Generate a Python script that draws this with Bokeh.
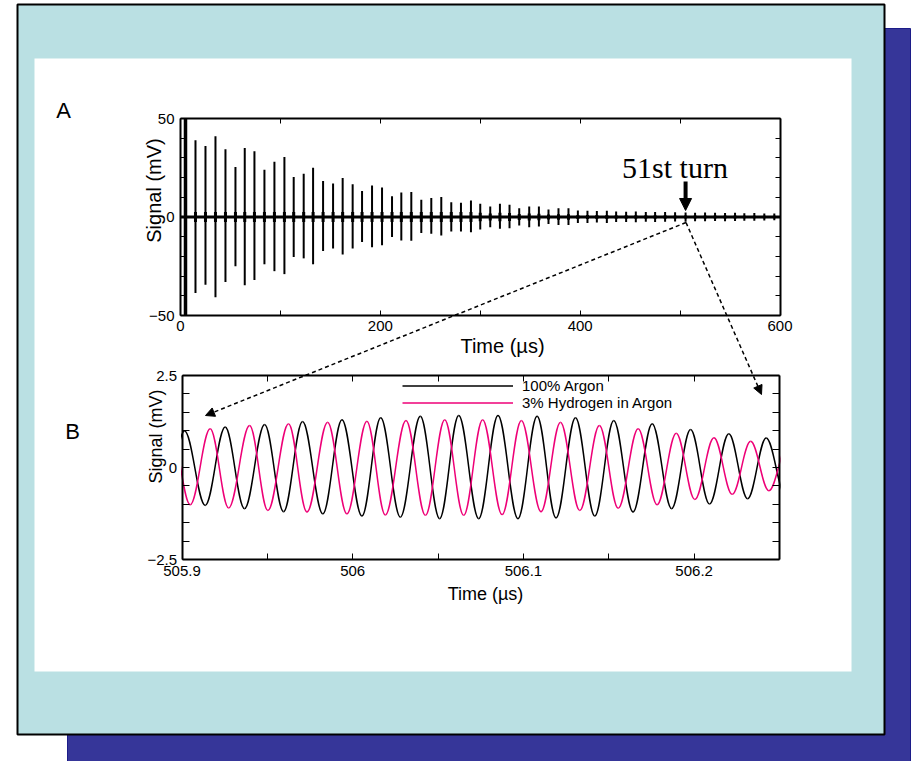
import numpy as np
from bokeh.plotting import figure
from bokeh.models import (Range1d, LinearAxis, FixedTicker, PrintfTickFormatter,
                          Arrow, NormalHead, Legend, LegendItem)
from bokeh.embed import file_html
from bokeh.resources import INLINE
from bokeh.core.properties import value

# ---------------- data ----------------
# Panel A: ring-down pulses (turn number -> time in us, peak +/- in mV)
pulse_t = [15, 25, 35, 45, 55, 64.3, 74, 84, 94, 104, 113.3, 123.3, 132.7, 142.7,
           152.7, 162.3, 172.3, 181.7, 191.7, 201.7, 211.7, 221, 231, 241, 251, 261,
           271, 280.7, 290.7, 300, 310, 319.7, 329.3, 339, 349, 358.7, 368.3, 378.3,
           388.3, 397.7, 407.3, 416.7, 426.7, 436, 446, 455.7, 465.7, 475, 485, 495,
           505.5, 515, 525, 535, 545, 555, 564.3, 574.3, 584.3, 594.3]
pulse_pos = [39, 36, 41, 34.4, 25.4, 35, 33.4, 24, 28, 30.5, 20.3, 22, 25, 18.3, 17,
             19.8, 16.6, 13.2, 16, 15, 10.5, 12.4, 12.7, 8.8, 9.6, 10.1, 7.5, 7.2, 8.4,
             6.7, 5.3, 6.7, 6.2, 4.5, 5.3, 5.3, 3.8, 4.5, 4.5, 3.3, 3.2, 3.0, 3.2, 2.8,
             2.7, 2.8, 2.5, 2.6, 2.5, 2.4, 2.3, 2.2, 2.3, 2.1, 2.0, 2.1, 1.9, 2.0, 1.8, 1.8]
pulse_neg = [-38.6, -34.4, -40.7, -33, -25, -34.7, -32, -24, -27.5, -29, -20.3, -21, -24,
             -17.3, -16, -19, -16, -12.7, -15.3, -14.4, -10.2, -11.9, -12, -8.1, -8.5,
             -9.4, -7.4, -7.4, -7.7, -6.3, -5.2, -6.0, -5.7, -4.3, -5.2, -4.8, -3.5,
             -4.0, -4.0, -3.0, -3.0, -2.8, -3.0, -2.6, -2.6, -2.7, -2.4, -2.5, -2.4,
             -2.3, -2.4, -2.2, -2.2, -2.0, -2.1, -2.0, -1.9, -1.9, -1.8, -1.7]
inject_t = [5.0]          # saturated injection signal
inject_lo = [-50.0]
inject_hi = [50.0]
baseline_t = [0, 600]
baseline_v = [0, 0]
turn_number = 51

# Panel B: extrema (time in us, signal in mV) of the two traces
ar_t = [505.8900, 505.9015, 505.9136, 505.9253, 505.9366, 505.9484, 505.9595, 505.9706,
        505.9825, 505.9937, 506.0054, 506.0164, 506.0279, 506.0396, 506.0509, 506.0621,
        506.0738, 506.0851, 506.0968, 506.1080, 506.1191, 506.1305, 506.1418, 506.1529,
        506.1642, 506.1754, 506.1868, 506.1979, 506.2090, 506.2203, 506.2313, 506.2422,
        506.2536]
ar_v = [-0.98, 0.99, -1.03, 1.10, -1.12, 1.17, -1.20, 1.25, -1.26, 1.30, -1.32, 1.35,
        -1.35, 1.39, -1.39, 1.41, -1.39, 1.41, -1.39, 1.39, -1.37, 1.35, -1.32, 1.28,
        -1.21, 1.19, -1.12, 1.03, -0.99, 0.92, -0.85, 0.80, -0.76]
h2_t = [505.8936, 505.9048, 505.9165, 505.9273, 505.9396, 505.9503, 505.9624, 505.9732,
        505.9853, 505.9966, 506.0083, 506.0191, 506.0312, 506.0426, 506.0539, 506.0650,
        506.0761, 506.0875, 506.0988, 506.1103, 506.1217, 506.1330, 506.1445, 506.1555,
        506.1672, 506.1783, 506.1895, 506.2004, 506.2116, 506.2223, 506.2331, 506.2438,
        506.2549]
h2_v = [1.00, -1.01, 1.05, -1.10, 1.14, -1.17, 1.19, -1.21, 1.23, -1.26, 1.26, -1.29,
        1.28, -1.30, 1.30, -1.30, 1.30, -1.28, 1.28, -1.20, 1.23, -1.17, 1.14, -1.11,
        1.05, -1.01, 0.93, -0.87, 0.81, -0.73, 0.71, -0.63, 0.62]
legend_labels = ["100% Argon", "3% Hydrogen in Argon"]

a_xlim = (0, 600)
a_ylim = (-50, 50)
a_xticks = [0, 200, 400, 600]
a_xminor = [100, 300, 500]
a_yticks = [-50, 0, 50]
a_yminor = [-40, -30, -20, -10, 10, 20, 30, 40]
b_xlim = (505.9, 506.25)
b_ylim = (-2.5, 2.5)
b_xticks = [505.9, 506.0, 506.1, 506.2]
b_xminor = [505.95, 506.05, 506.15]
b_yticks = [-2.5, 0, 2.5]
b_yminor = [-2, -1.5, -1, -0.5, 0.5, 1, 1.5, 2]

# ---------------- layout (page pixels) ----------------
W, H = 914, 761
PX0, PY0 = 0, 0
PX1, PY1 = PX0 + W, PY0 + H
A_FRAME = (180, 779.5, 118, 315)     # left, right, top, bottom
B_FRAME = (181.5, 779, 375, 559)
SANS = "Liberation Sans"

p = figure(width=W, height=H, x_range=Range1d(PX0, PX1), y_range=Range1d(PY1, PY0),
           output_backend="svg", toolbar_location=None, min_border=0,
           x_axis_type=None, y_axis_type=None, outline_line_color=None,
           background_fill_color="white", border_fill_color="white")


def span_range(d0, d1, p0, p1, c0, c1):
    s = (d1 - d0) / (p1 - p0)
    return Range1d(start=d0 + (c0 - p0) * s, end=d0 + (c1 - p0) * s)


p.extra_x_ranges = {
    "ax": span_range(a_xlim[0], a_xlim[1], A_FRAME[0], A_FRAME[1], PX0, PX1),
    "bx": span_range(b_xlim[0], b_xlim[1], B_FRAME[0], B_FRAME[1], PX0, PX1),
}
p.extra_y_ranges = {
    "ay": span_range(a_ylim[1], a_ylim[0], A_FRAME[2], A_FRAME[3], PY1, PY0),
    "by": span_range(b_ylim[1], b_ylim[0], B_FRAME[2], B_FRAME[3], PY1, PY0),
}

# slide background
p.quad(left=[67], right=[910], top=[28], bottom=[775], fill_color="#363699",
       line_color="#1c1c88", line_width=1)
p.quad(left=[17], right=[884], top=[4], bottom=[734], fill_color="#BAE0E3",
       line_color="black", line_width=2)
p.quad(left=[34], right=[851], top=[58], bottom=[671], fill_color="white", line_color=None)

# ---------------- panel A ----------------
A = dict(x_range_name="ax", y_range_name="ay")
p.line(baseline_t, baseline_v, line_color="black", line_width=3, **A)
p.segment(x0=inject_t, y0=inject_lo, x1=inject_t, y1=inject_hi, line_color="black",
          line_width=3.5, **A)
p.segment(x0=pulse_t, y0=pulse_neg, x1=pulse_t, y1=pulse_pos, line_color="black",
          line_width=2, **A)
half = [min(0.35 * min(a, -b), 2.5) for a, b in zip(pulse_pos, pulse_neg)]
p.segment(x0=pulse_t, y0=[-h for h in half], x1=pulse_t, y1=half, line_color="black",
          line_width=3, **A)

# ---------------- panel B ----------------
B = dict(x_range_name="bx", y_range_name="by")
K = 1 - 2 / np.pi


def half_waves(ts, vs):
    t = np.asarray(ts, float)
    v = np.asarray(vs, float)
    dt = t[1:] - t[:-1]
    return dict(x0=t[:-1], y0=v[:-1], x1=t[1:], y1=v[1:],
                cx0=t[:-1] + K * dt, cy0=v[:-1], cx1=t[1:] - K * dt, cy1=v[1:])


r_ar = p.bezier(**half_waves(ar_t, ar_v), line_color="black", line_width=1.5, **B)
r_h2 = p.bezier(**half_waves(h2_t, h2_v), line_color="#EE0077", line_width=1.5, **B)
# mask the trace ends outside panel B's frame
p.quad(left=[158, B_FRAME[1] + 1], right=[B_FRAME[0] - 1, 800],
       top=[B_FRAME[2] - 3] * 2, bottom=[B_FRAME[3] + 3] * 2,
       fill_color="white", line_color=None)


# ---------------- axes (frames with inward ticks) ----------------
def frame_axes(xr, yr, xlim, ylim, xt, xm, yt, ym, xlen, ylen, xstand, ystand, fmt=None):
    common = dict(x_range_name=xr, y_range_name=yr, axis_line_width=2,
                  axis_line_color="black", major_tick_in=0, major_tick_out=0,
                  minor_tick_out=0, major_tick_line_color="black",
                  minor_tick_line_color="black", major_label_text_font=SANS,
                  major_label_text_font_size="15px", major_label_text_color="black")
    kw = {} if fmt is None else dict(formatter=fmt)
    bottom = LinearAxis(fixed_location=ylim[0], bounds=xlim,
                        ticker=FixedTicker(ticks=xt, minor_ticks=xm),
                        minor_tick_in=xlen, major_label_standoff=xstand, **common, **kw)
    bottom.major_tick_in = xlen
    top = LinearAxis(fixed_location=ylim[1], bounds=xlim,
                     ticker=FixedTicker(ticks=[], minor_ticks=sorted(xt + xm)),
                     minor_tick_in=xlen, **common)
    left = LinearAxis(fixed_location=xlim[0], bounds=ylim,
                      ticker=FixedTicker(ticks=yt, minor_ticks=ym),
                      minor_tick_in=ylen, major_label_standoff=ystand, **common)
    left.major_tick_in = ylen
    right = LinearAxis(fixed_location=xlim[1], bounds=ylim,
                       ticker=FixedTicker(ticks=[], minor_ticks=sorted(yt + ym)),
                       minor_tick_in=ylen, **common)
    p.add_layout(bottom, "below")
    p.add_layout(top, "above")
    p.add_layout(left, "left")
    p.add_layout(right, "right")


frame_axes("ax", "ay", a_xlim, a_ylim, a_xticks, a_xminor, a_yticks, a_yminor,
           5, 5, 5, 6)
frame_axes("bx", "by", b_xlim, b_ylim, b_xticks, b_xminor, b_yticks, b_yminor,
           6, 7, 6, 5, fmt=PrintfTickFormatter(format="%g"))

# ---------------- texts ----------------
def txt(x, y, s, size, font=SANS, angle=0.0, align="center", baseline="alphabetic"):
    p.text(x=[x], y=[y], text=[s], text_font=value(font), text_font_size=size,
           text_color="black", angle=angle, text_align=align, text_baseline=baseline)


txt(63, 110, "A", "22px")
txt(72, 431, "B", "22px")
txt(153, 190, "Signal (mV)", "20px", angle=np.pi / 2)
txt(502, 345, "Time (µs)", "20px")
txt(155, 436, "Signal (mV)", "18px", angle=np.pi / 2)
txt(485, 593, "Time (µs)", "18px")
txt(674.5, 167, "51st turn", "30px", font="Liberation Serif")

# arrows
t_turn = pulse_t[turn_number - 1]
p.add_layout(Arrow(end=NormalHead(size=12, fill_color="black", line_color="black"),
                   x_start=t_turn, y_start=18, x_end=t_turn, y_end=3.3,
                   line_width=4, line_color="black", **A))
for xe, ye in [(205, 415), (761, 394)]:
    p.add_layout(Arrow(end=NormalHead(size=9, fill_color="black", line_color="black",
                                      line_width=1),
                       x_start=685.5, y_start=222, x_end=xe, y_end=ye,
                       line_width=1.5, line_dash="4 3", line_color="black"))

# legend of panel B
legend = Legend(items=[LegendItem(label=legend_labels[0], renderers=[r_ar]),
                       LegendItem(label=legend_labels[1], renderers=[r_h2])],
                location=(402 - PX0, PY1 - 410.5), glyph_width=111, glyph_height=15,
                label_height=15, label_standoff=9, spacing=0, padding=0, margin=0,
                border_line_color=None, background_fill_alpha=0,
                label_text_font=SANS, label_text_font_size="15px",
                label_text_color="black")
p.add_layout(legend)

open("out.html", "w").write(file_html(p, INLINE))
